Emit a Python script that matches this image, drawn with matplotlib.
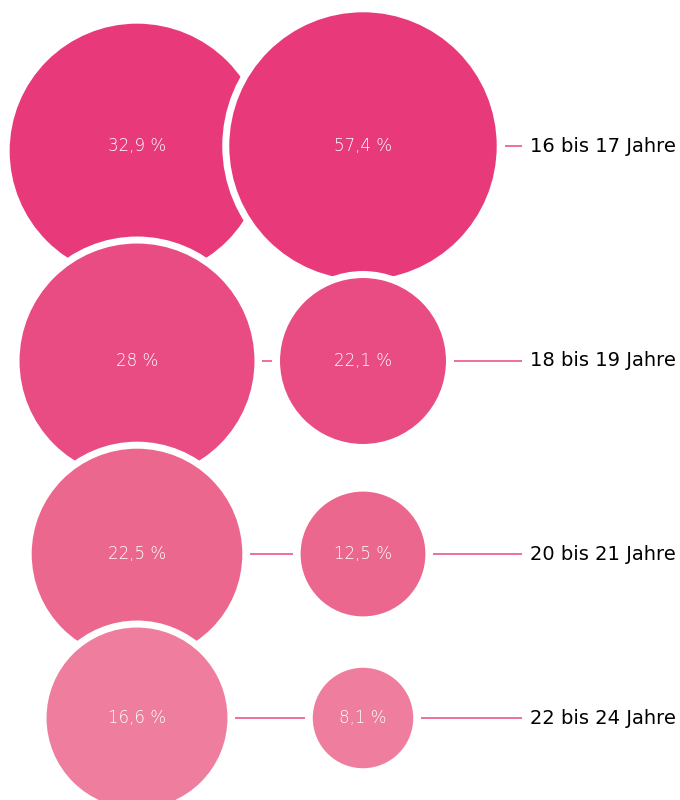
import matplotlib
matplotlib.use("Agg")
import matplotlib.pyplot as plt
from matplotlib.patches import Circle
import numpy as np

# Data
categories = ["16 bis 17 Jahre", "18 bis 19 Jahre", "20 bis 21 Jahre", "22 bis 24 Jahre"]
left_values = [32.9, 28.0, 22.5, 16.6]
right_values = [57.4, 22.1, 12.5, 8.1]
left_labels = ["32,9 %", "28 %", "22,5 %", "16,6 %"]
right_labels = ["57,4 %", "22,1 %", "12,5 %", "8,1 %"]

# Styling / layout
row_colors = ["#E83A7A", "#E84C82", "#EC678E", "#EF7D9D"]
line_color = "#E8497E"
row_y = [146, 361, 554, 718]
left_dy = [5, 0, 0, 0]  # small vertical offset of left circles (layout)
x_left, x_right = 137, 363
k_left, k_right = 22.2, 17.65  # px per sqrt(value)
label_x = 530
line_end = 522
gap = 8
edge_px = 7

W, H = 680, 800
fig = plt.figure(figsize=(W / 100, H / 100), dpi=100)
ax = fig.add_axes([0, 0, 1, 1])
ax.set_xlim(0, W)
ax.set_ylim(H, 0)
ax.set_aspect("equal")
ax.axis("off")

lw_pt = edge_px * 72 / 100
num_font = ["DejaVu Sans"]
lab_font = ["DejaVu Sans"]

z = 1
for i, cat in enumerate(categories):
    y = row_y[i]
    rl = k_left * np.sqrt(left_values[i])
    rr = k_right * np.sqrt(right_values[i])
    for (xc, yc, r, lab) in [(x_left, y + left_dy[i], rl, left_labels[i]),
                             (x_right, y, rr, right_labels[i])]:
        c = Circle((xc, yc), r + edge_px / 2, facecolor=row_colors[i],
                   edgecolor="white", linewidth=lw_pt, zorder=z)
        ax.add_patch(c)
        ax.text(xc, y, lab, color="white", fontsize=12, ha="center", va="center",
                family=num_font, fontweight="light", zorder=z + 0.5)
        z += 1
    # connector between circles
    x0 = x_left + rl + gap
    x1 = x_right - rr - gap
    if x1 > x0:
        ax.plot([x0, x1], [y, y], color=line_color, lw=1.1, zorder=50,
                solid_capstyle="butt")
    # connector to label
    x2 = x_right + rr + gap
    ax.plot([x2, line_end], [y, y], color=line_color, lw=1.1, zorder=50,
            solid_capstyle="butt")
    ax.text(label_x, y, cat, color="black", fontsize=14, ha="left", va="center",
            family=lab_font, zorder=60)

fig.savefig("out.png", dpi=100)
